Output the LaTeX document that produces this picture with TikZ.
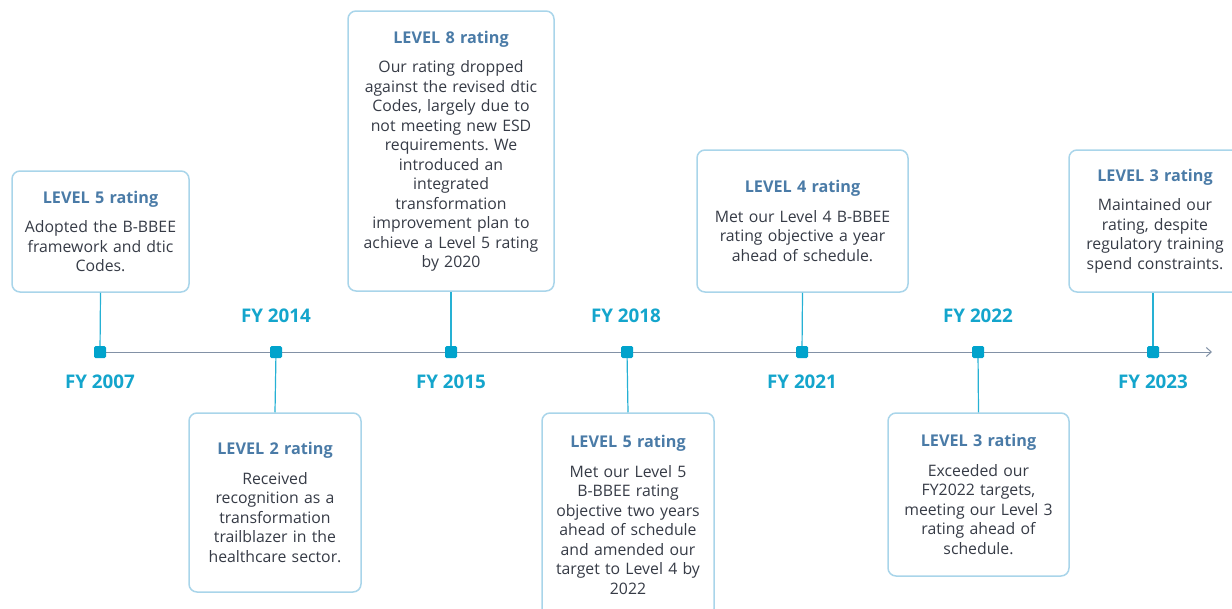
\documentclass[tikz,border=0pt]{standalone}
\usepackage{fontspec}
\setmainfont{Open Sans}
\usetikzlibrary{arrows.meta}
\definecolor{titleblue}{HTML}{4A7BA7}
\definecolor{fycyan}{HTML}{14A5CC}
\definecolor{boxline}{HTML}{A9D5EA}
\definecolor{axisgray}{HTML}{8291A6}
\definecolor{bodytext}{HTML}{363B46}
\definecolor{dotcyan}{HTML}{00A3CC}
\newcommand\cardhead[1]{{\color{titleblue}\fontsize{16.2}{19}\selectfont\bfseries #1}\\[10pt]}
\frenchspacing
\begin{document}
\begin{tikzpicture}[x=1pt, y=-1pt,
    card/.style={draw=boxline, line width=1.5pt, rounded corners=8pt, fill=white,
      align=center, inner sep=0pt, text=bodytext, font=\fontsize{15.8}{19.5}\selectfont},
    dot/.style={fill=dotcyan, rounded corners=1.5pt, minimum size=12pt, inner sep=0pt},
    stem/.style={draw=dotcyan!85, line width=1.2pt},
    axis/.style={draw=axisgray, line width=1pt},
    year/.style={text=fycyan, font=\fontsize{18.8}{20}\selectfont\bfseries}]
    \useasboundingbox (0,0) rectangle (1232,608);
    \clip (0,0) rectangle (1232,608);
    % timeline
    \coordinate (axisend) at (1212,352);
    \draw[axis, -{Straight Barb[length=5pt, width=9pt]}] (100,352) -- (axisend);
    % cards
    \node[card, text width=177, minimum height=121] (b1) at (100.5,231.5)
        {\cardhead{LEVEL 5 rating}Adopted the B-BBEE\\framework and dtic\\Codes.};
    \node[card, text width=172, minimum height=179] (b2) at (275,502.5)
        {\cardhead{LEVEL 2 rating}Received\\recognition as a\\transformation\\trailblazer in the\\healthcare sector.};
    \node[card, text width=206, minimum height=280] (b3) at (451,151)
        {\cardhead{LEVEL 8 rating}Our rating dropped\\against the revised dtic\\Codes, largely due to\\not meeting new ESD\\requirements. We\\introduced an\\integrated\\transformation\\improvement plan to\\achieve a Level 5 rating\\by 2020};
    \node[card, text width=172, minimum height=204] (b4) at (628,515)
        {\cardhead{LEVEL 5 rating}Met our Level 5\\B-BBEE rating\\objective two years\\ahead of schedule\\and amended our\\target to Level 4 by\\2022};
    \node[card, text width=211, minimum height=142] (b5) at (802.5,221)
        {\cardhead{LEVEL 4 rating}Met our Level 4 B-BBEE\\rating objective a year\\ahead of schedule.};
    \node[card, text width=181, minimum height=163] (b6) at (978.5,494.5)
        {\cardhead{LEVEL 3 rating}Exceeded our\\FY2022 targets,\\meeting our Level 3\\rating ahead of\\schedule.};
    \node[card, text width=172, minimum height=142] (b7) at (1155,221)
        {\cardhead{LEVEL 3 rating}Maintained our\\rating, despite\\regulatory training\\spend constraints.};
    % dots on the line
    \node[dot] (d1) at (100,352) {};
    \node[dot] (d2) at (276,352) {};
    \node[dot] (d3) at (451,352) {};
    \node[dot] (d4) at (627,352) {};
    \node[dot] (d5) at (802,352) {};
    \node[dot] (d6) at (978,352) {};
    \node[dot] (d7) at (1153,352) {};
    % stems
    \draw[stem] (b1.south) -- (d1);
    \draw[stem] (b2.north) -- (d2);
    \draw[stem] (b3.south) -- (d3);
    \draw[stem] (b4.north) -- (d4);
    \draw[stem] (b5.south) -- (d5);
    \draw[stem] (b6.north) -- (d6);
    \draw[stem] (d7) -- (d7 |- b7.south);
    % years
    \node[year] (y1) at (100,382) {FY 2007};
    \node[year] (y2) at (276,316) {FY 2014};
    \node[year] (y3) at (451,382) {FY 2015};
    \node[year] (y4) at (626,316) {FY 2018};
    \node[year] (y5) at (802,382) {FY 2021};
    \node[year] (y6) at (978,316) {FY 2022};
    \node[year] (y7) at (1153,382) {FY 2023};
\end{tikzpicture}
\end{document}
